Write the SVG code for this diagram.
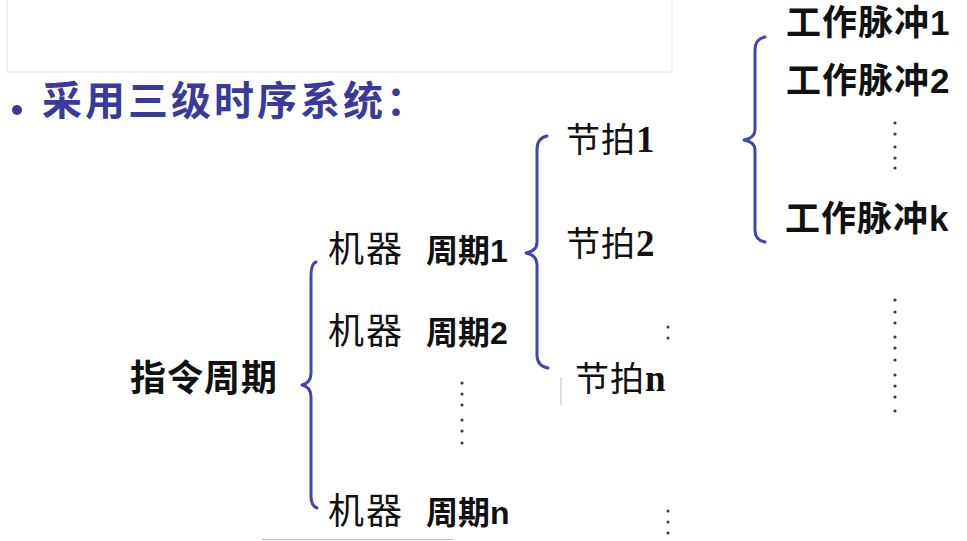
<svg xmlns="http://www.w3.org/2000/svg" width="967" height="541" viewBox="0 0 967 541">
<defs>
<style>
.title{font-family:"Noto Sans CJK SC","Liberation Sans",sans-serif;font-weight:bold;font-size:40px;fill:#3a3a9c;letter-spacing:3px}
.bs{font-family:"Liberation Sans","Noto Sans CJK SC",sans-serif;font-weight:bold;fill:#111}
.sf{font-family:"Liberation Serif","Noto Sans CJK SC",serif;fill:#111}
.sfd{font-weight:bold;font-size:37px}
.brace{fill:none;stroke:#4545b2;stroke-width:3;stroke-linecap:round;stroke-linejoin:round}
.dot{fill:#3a3a3a}
.faint{stroke:#bdbdbd;stroke-width:1;fill:none}
</style>
</defs>
<rect width="967" height="541" fill="#ffffff"/>
<rect x="7" y="-1" width="665" height="73" fill="#ffffff" stroke="#eeeeee" stroke-width="1.5"/>

<g id="title">
<circle cx="17" cy="110" r="5" fill="#3a3a9c"/>
<text class="title" x="42" y="115">采用三级时序系统：</text>
</g>

<g id="node-instruction-cycle">
<text class="bs" x="130" y="391" font-size="36" letter-spacing="1">指令周期</text>
</g>

<g id="node-machine-cycle-1">
<text x="328" y="262" font-size="36"><tspan class="sf" letter-spacing="2">机器</tspan><tspan class="bs" x="426" font-size="32">周期1</tspan></text>
</g>
<g id="node-machine-cycle-2">
<text x="328" y="344" font-size="36"><tspan class="sf" letter-spacing="2">机器</tspan><tspan class="bs" x="426" font-size="32">周期2</tspan></text>
</g>
<g id="node-machine-cycle-n">
<text x="328" y="524" font-size="36"><tspan class="sf" letter-spacing="2">机器</tspan><tspan class="bs" x="426" font-size="32">周期n</tspan></text>
</g>

<g id="node-beat-1">
<text class="sf" x="566" y="152" font-size="34" letter-spacing="1">节拍<tspan class="sfd">1</tspan></text>
</g>
<g id="node-beat-2">
<text class="sf" x="566" y="256" font-size="34" letter-spacing="1">节拍<tspan class="sfd">2</tspan></text>
</g>
<g id="node-beat-n">
<text class="sf" x="575" y="391" font-size="34" letter-spacing="1">节拍<tspan class="sfd">n</tspan></text>
</g>

<g id="node-pulse-1">
<text class="bs" x="786" y="35" font-size="35" letter-spacing="1">工作脉冲1</text>
</g>
<g id="node-pulse-2">
<text class="bs" x="786" y="93" font-size="35" letter-spacing="1">工作脉冲2</text>
</g>
<g id="node-pulse-k">
<text class="bs" x="785" y="231" font-size="35" letter-spacing="1">工作脉冲k</text>
</g>

<g id="connectors">
<path class="brace" d="M316,262 Q311,264 311,275 L311,373 Q311,383 302,385 Q311,387 311,397 L311,496 Q311,506 317,508"/>
<path class="brace" d="M547,136 Q537,138 537,150 L537,242 Q537,251 526,253 Q537,255 537,265 L537,355 Q537,366 548,368"/>
<path class="brace" d="M765,37 Q755,39 755,50 L755,130 Q755,138 744,140 Q755,142 755,150 L755,230 Q755,240 765,242"/>
</g>

<g id="ellipses">
<circle class="dot" cx="462" cy="383" r="1.6"/>
<circle class="dot" cx="462" cy="394" r="1.6"/>
<circle class="dot" cx="462" cy="405" r="1.6"/>
<circle class="dot" cx="462" cy="420" r="1.6"/>
<circle class="dot" cx="462" cy="431" r="1.6"/>
<circle class="dot" cx="462" cy="443" r="1.6"/>

<circle class="dot" cx="668" cy="327" r="1.5"/>
<circle class="dot" cx="668" cy="338" r="1.5"/>
<circle class="dot" cx="668" cy="511" r="1.5"/>
<circle class="dot" cx="668" cy="522" r="1.5"/>
<circle class="dot" cx="668" cy="533" r="1.5"/>

<circle class="dot" cx="895" cy="123" r="1.6"/>
<circle class="dot" cx="895" cy="134" r="1.6"/>
<circle class="dot" cx="895" cy="147" r="1.6"/>
<circle class="dot" cx="895" cy="158" r="1.6"/>
<circle class="dot" cx="895" cy="168" r="1.6"/>

<circle class="dot" cx="895" cy="300" r="1.6"/>
<circle class="dot" cx="895" cy="312" r="1.6"/>
<circle class="dot" cx="895" cy="323" r="1.6"/>
<circle class="dot" cx="895" cy="337" r="1.6"/>
<circle class="dot" cx="895" cy="348" r="1.6"/>
<circle class="dot" cx="895" cy="360" r="1.6"/>
<circle class="dot" cx="895" cy="375" r="1.6"/>
<circle class="dot" cx="895" cy="386" r="1.6"/>
<circle class="dot" cx="895" cy="397" r="1.6"/>
<circle class="dot" cx="895" cy="411" r="1.6"/>
</g>

<g id="artifacts">
<line class="faint" x1="561" y1="377" x2="561" y2="405"/>
<line class="faint" x1="262" y1="539.5" x2="453" y2="539.5"/>
</g>
</svg>
